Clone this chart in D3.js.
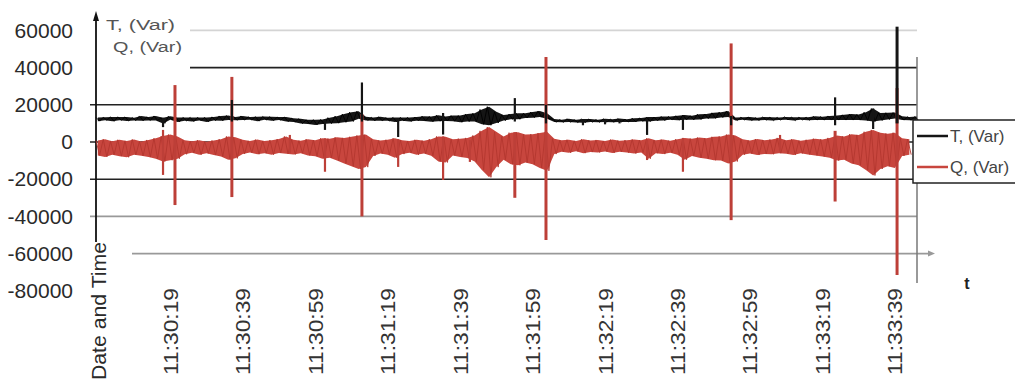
<!DOCTYPE html>
<html>
<head>
<meta charset="utf-8">
<script src="https://cdn.jsdelivr.net/npm/d3@7"></script>
<style>
  body { margin: 0; background: #fff; }
  svg { display: block; font-family: Arial, "Liberation Sans", sans-serif; }
</style>
</head>
<body>
<svg id="chart" width="1015" height="383"></svg>
<script>
// time is in seconds after 11:30:00, envelope sampled every 2 s
const sampleStart = -1, sampleStep = 2;

// T, (Var) noise band, upper / lower edge
const tHi = [13200,13300,13500,13500,13500,13100,14000,13400,14000,13000,
  13900,13200,13200,13200,13200,13200,13500,14000,14200,13500,
  14000,13500,13600,13700,13600,13400,13400,12800,12500,11900,
  12000,12100,13100,13900,15000,16000,16500,13600,13200,13600,
  13000,13200,13200,13200,13400,13900,13700,14400,13700,14200,
  14200,15000,15400,17500,19000,16200,14500,15000,15400,15500,
  16100,16600,15500,12300,12000,12500,11900,12400,12300,12000,
  12500,12200,12600,12200,12800,12900,13400,13400,13700,13700,
  14100,14500,14100,14900,15000,15700,16000,16600,13200,13300,
  13400,13000,13400,13300,13200,13500,13300,13300,13300,13800,
  13600,14000,14200,14600,15000,14800,16000,18000,15600,15700,
  15800,13800,13500,13700];
const tLo = [11200,11700,11100,11700,11300,11500,11400,11600,11600,10000,
  11900,10800,11400,11000,11600,10800,11500,11400,11800,11700,
  11800,11900,11200,11900,11400,11800,11000,10800,9900,9700,
  9200,9700,9900,10100,10600,11000,12500,11600,11400,11400,
  11400,10800,11400,11000,11400,11300,10900,11200,11300,11200,
  10600,11000,11000,9500,9000,10200,11500,12200,12200,12900,
  13100,13400,12500,10700,10600,10700,10500,10400,10700,10600,
  10700,10600,10800,10800,10800,11100,11000,11400,11500,11900,
  11700,11900,11900,12100,12600,12700,13200,13400,11600,11900,
  11600,11600,11800,11500,11800,11900,11500,11900,11700,11800,
  11800,11800,11800,11800,11800,11800,11600,11000,11600,12100,
  12600,11800,11700,11700];

// Q, (Var) noise band, upper / lower edge
const qHi = [800,1500,400,1200,600,1400,300,1100,2000,3200,
  4000,3000,900,400,1000,200,800,1500,3000,2500,
  1200,600,1300,500,1000,1600,3000,1200,700,1500,
  1000,2000,1800,2500,2200,2800,3500,4000,1500,800,
  1200,2000,1000,500,1200,700,1500,3000,2800,1500,
  1800,2200,3500,6000,8000,5500,3000,5000,5300,4000,
  4200,4800,5500,1800,900,1200,600,1500,800,1100,
  500,1300,700,1000,1400,900,2000,1000,1300,700,
  1500,2200,1800,2400,2000,2800,3000,4000,3500,1500,
  800,1600,1000,1300,2200,900,1500,700,1200,1800,
  1400,2200,3500,3000,4200,3800,5500,6500,5000,4500,
  5000,2000,1500];
const qLo = [-7200,-8000,-6800,-7600,-8200,-6900,-7400,-8100,-9000,-10500,
  -9800,-9000,-6600,-5800,-6900,-6100,-7000,-7800,-9500,-8800,
  -6400,-5700,-6600,-6000,-6800,-5900,-6300,-6700,-6000,-7200,
  -7600,-9000,-8500,-10000,-11500,-13000,-14500,-13500,-7500,-6200,
  -6800,-8500,-6500,-5800,-6900,-6200,-7400,-10500,-11000,-7200,
  -8000,-8600,-10500,-15000,-19000,-13500,-9500,-12000,-12500,-11000,
  -12000,-14000,-15500,-6500,-5200,-5800,-5000,-6000,-5400,-5600,
  -5100,-5900,-5300,-5700,-6200,-5600,-9000,-6000,-6500,-5800,
  -6800,-9500,-7500,-8500,-9000,-9800,-10000,-11500,-10500,-6800,
  -6200,-7000,-6400,-6600,-6000,-6300,-7000,-6100,-6700,-7200,
  -7800,-8500,-10000,-9500,-11500,-12500,-15000,-18000,-14500,-13000,
  -14000,-7500,-6800];

// switching transients
const tSpikeSec = [17, 36, 61.7, 71.9, 81.9, 94.3, 114.1, 122.7, 132.9, 139, 143, 150.6, 160.5, 173.8, 202.5, 213, 219.6];
const tSpikeHi  = [13000, 22600, 12000, 32000, 12500, 15600, 23600, 20000, 11800, 11800, 11800, 12000, 12500, 14000, 24000, 18000, 62000];
const tSpikeLo  = [8000, 11000, 6500, 11000, 2700, 4000, 11000, 10000, 9000, 9500, 10000, 3800, 6500, 9000, 9000, 7000, 10000];

const qSpikeSec = [17, 20.3, 36, 52, 61.7, 71.9, 81.9, 94.3, 101.7, 114.1, 122.7, 150.6, 160.5, 173.8, 187.3, 202.5, 219.6];
const qSpikeHi  = [6500, 30600, 35000, 3800, 2000, 15000, 1500, 3000, 1000, 5300, 45700, 1000, 2000, 53000, 3800, 6000, 29000];
const qSpikeLo  = [-17700, -33900, -29600, -6000, -16000, -40000, -13400, -20400, -10700, -30000, -52700, -9700, -16000, -42000, -5000, -32000, -71500];

const tickSec = [19, 39, 59, 79, 99, 119, 139, 159, 179, 199, 219];
const tickLabels = ["11:30:19","11:30:39","11:30:59","11:31:19","11:31:39","11:31:59",
  "11:32:19","11:32:39","11:32:59","11:33:19","11:33:39"];
const yTicks = [60000, 40000, 20000, 0, -20000, -40000, -60000, -80000];
const seriesNames = ["T, (Var)", "Q, (Var)"];

const black = "#151515", red = "#c8463e";

const svg = d3.select("#chart");
svg.append("rect").attr("width", 1015).attr("height", 383).attr("fill", "#fff");

const x = d3.scaleLinear().domain([-1.5, 224]).range([96, 913]);
const y = d3.scaleLinear().domain([-80000, 60000]).range([290.8, 30.4]);

// gridlines (each one starts/ends a bit differently in the original)
const gridStyle = {
  "60000":  {x0: 190, x1: 917, c: "#d4d4d4"},
  "40000":  {x0: 190, x1: 917, c: "#222"},
  "20000":  {x0: 90,  x1: 917, c: "#222"},
  "0":      {x0: 90,  x1: 917, c: "#222"},
  "-20000": {x0: 90,  x1: 917, c: "#222"},
  "-40000": {x0: 90,  x1: 917, c: "#999"},
  "-60000": {x0: 132, x1: 928, c: "#999"}
};
svg.append("g").selectAll("line")
  .data(yTicks.filter(v => gridStyle[v]))
  .enter().append("line")
    .attr("x1", d => gridStyle[d].x0)
    .attr("x2", d => gridStyle[d].x1)
    .attr("y1", d => y(d)).attr("y2", d => y(d))
    .attr("stroke", d => gridStyle[d].c)
    .attr("stroke-width", 1.6);

// arrow at the end of the -60000 line
svg.append("path")
  .attr("d", `M${928},${y(-60000) - 3} L${935},${y(-60000)} L${928},${y(-60000) + 3} Z`)
  .attr("fill", "#999");

// right border line
svg.append("line").attr("x1", 917).attr("x2", 917).attr("y1", 57).attr("y2", 283)
  .attr("stroke", "#777").attr("stroke-width", 1.5);

// y axis
const yAxis = svg.append("g").attr("transform", "translate(96,0)")
  .call(d3.axisLeft(y).tickValues(yTicks).tickSize(0).tickPadding(23).tickFormat(d => String(d)));
yAxis.select(".domain").remove();
yAxis.selectAll("text").style("font-size", "21px").attr("fill", "#2a2a2a")
  .style("font-family", "Arial, 'Liberation Sans', sans-serif");

svg.append("line").attr("x1", 96).attr("x2", 96).attr("y1", 242).attr("y2", 18)
  .attr("stroke", "#111").attr("stroke-width", 1.8);
svg.append("path").attr("d", "M93,21 L96,11 L99,21 Z").attr("fill", "#111");

// x axis labels
const xAxis = svg.append("g").attr("transform", "translate(0,288)")
  .call(d3.axisBottom(x).tickValues(tickSec).tickSize(0).tickFormat((d, i) => tickLabels[i]));
xAxis.select(".domain").remove();
xAxis.selectAll("text")
  .attr("transform", "rotate(-90)")
  .attr("x", 0).attr("y", 7).attr("dy", 0)
  .style("text-anchor", "end")
  .style("font-size", "20px")
  .style("font-family", "Arial, 'Liberation Sans', sans-serif")
  .attr("fill", "#333")
  .attr("textLength", 87).attr("lengthAdjust", "spacingAndGlyphs");

svg.append("text").attr("transform", "translate(106,380) rotate(-90)")
  .style("font-size", "21px").attr("fill", "#2a2a2a")
  .attr("textLength", 138).attr("lengthAdjust", "spacingAndGlyphs")
  .text("Date and Time");

svg.append("text").attr("x", 967).attr("y", 289).attr("text-anchor", "middle")
  .style("font-size", "16px").style("font-weight", "bold").attr("fill", "#222").text("t");

// series bands
const tSec = d3.range(tHi.length).map(i => sampleStart + i * sampleStep);

function drawBand(hi, lo, color, edge) {
  const pts = hi.map((h, i) => ({t: tSec[i], hi: h, lo: lo[i]}));
  svg.append("path").datum(pts)
    .attr("d", d3.area().x(d => x(d.t)).y0(d => y(d.lo)).y1(d => y(d.hi)))
    .attr("fill", color);
  // zigzag between the edges gives the dense noise texture
  const zig = [];
  pts.forEach(d => { zig.push([d.t - 0.5, d.hi]); zig.push([d.t + 0.5, d.lo]); });
  svg.append("path").datum(zig)
    .attr("d", d3.line().x(d => x(d[0])).y(d => y(d[1])))
    .attr("fill", "none").attr("stroke", edge).attr("stroke-width", 0.9);
}

function drawSpikes(sec, hi, lo, color) {
  svg.append("g").selectAll("line")
    .data(sec.map((s, i) => ({t: s, hi: hi[i], lo: lo[i]})))
    .enter().append("line")
      .attr("x1", d => x(d.t)).attr("x2", d => x(d.t))
      .attr("y1", d => y(d.hi)).attr("y2", d => y(d.lo))
      .attr("stroke", color)
      .attr("stroke-width", d => (d.hi - d.lo) > 25000 ? 3 : 2.2);
}

drawBand(qHi, qLo, red, "#b3372f");
drawBand(tHi, tLo, black, "#000");
drawSpikes(qSpikeSec, qSpikeHi, qSpikeLo, "#bd3f38");
drawSpikes(tSpikeSec, tSpikeHi, tSpikeLo, black);

// series labels at top left
svg.append("text").attr("x", 106).attr("y", 30).style("font-size", "14px").attr("fill", "#555")
  .attr("textLength", 69).attr("lengthAdjust", "spacingAndGlyphs").text(seriesNames[0]);
svg.append("text").attr("x", 113).attr("y", 52).style("font-size", "14px").attr("fill", "#555")
  .attr("textLength", 69).attr("lengthAdjust", "spacingAndGlyphs").text(seriesNames[1]);

// legend
const lg = svg.append("g");
lg.append("rect").attr("x", 913).attr("y", 120).attr("width", 120).attr("height", 63)
  .attr("fill", "#fff").attr("stroke", "#222").attr("stroke-width", 1.5);
[black, red].forEach((c, i) => {
  const ly = 136 + i * 31;
  lg.append("line").attr("x1", 917).attr("x2", 948).attr("y1", ly).attr("y2", ly)
    .attr("stroke", c).attr("stroke-width", 2.5);
  lg.append("text").attr("x", 950).attr("y", ly + 6).style("font-size", "17px").attr("fill", "#444")
    .text(seriesNames[i]);
});
</script>
</body>
</html>
